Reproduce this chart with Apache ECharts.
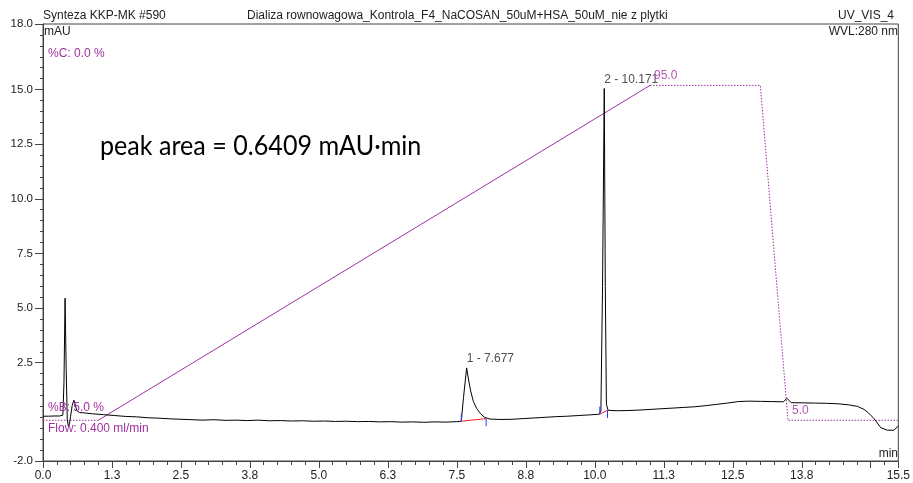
<!DOCTYPE html>
<html><head><meta charset="utf-8">
<script src="https://cdn.jsdelivr.net/npm/echarts@6/dist/echarts.min.js"></script>
<style>html,body{margin:0;padding:0;background:#fff}#c{width:913px;height:483px}</style>
</head><body><div id="c"></div>
<script>
// ---- data ----
const traceTime = [0,0.1,0.2,0.3,0.36,0.38,0.40,0.42,0.44,0.46,0.48,0.50,0.53,0.56,0.58,0.61,0.66,0.75,0.9,1.1,1.3,1.5,1.7,1.9,2.1,2.3,2.5,2.7,2.9,3.1,3.3,3.5,3.7,3.9,4.1,4.3,4.5,4.7,4.9,5.1,5.3,5.5,5.7,5.9,6.1,6.3,6.5,6.7,6.9,7.1,7.3,7.5,7.58,7.62,7.677,7.71,7.75,7.80,7.86,7.93,8.0,8.1,8.3,8.5,8.7,8.9,9.1,9.3,9.5,9.7,9.9,10.08,10.11,10.14,10.171,10.19,10.21,10.24,10.4,10.6,10.8,11.0,11.2,11.4,11.6,11.8,12.0,12.2,12.4,12.6,12.8,13.0,13.2,13.42,13.48,13.56,13.8,14.0,14.2,14.4,14.6,14.76,14.88,14.96,15.06,15.18,15.3,15.42,15.5];
const traceMAU  = [0.05,0.05,0.06,0.06,0.1,1.6,5.45,2.2,-0.1,-0.42,-0.3,0.05,0.55,0.78,0.62,0.32,0.22,0.2,0.16,0.12,0.08,0.04,0.02,-0.02,-0.04,-0.07,-0.09,-0.11,-0.13,-0.11,-0.14,-0.13,-0.15,-0.13,-0.16,-0.15,-0.17,-0.16,-0.18,-0.17,-0.19,-0.18,-0.2,-0.19,-0.21,-0.2,-0.22,-0.21,-0.23,-0.21,-0.22,-0.2,-0.18,0.9,2.26,1.75,1.2,0.72,0.4,0.16,0.0,-0.08,-0.1,-0.09,-0.06,-0.03,0.0,0.03,0.05,0.08,0.11,0.14,0.3,6.0,15.05,6.0,0.6,0.32,0.3,0.31,0.33,0.36,0.39,0.42,0.45,0.48,0.53,0.59,0.65,0.72,0.74,0.73,0.72,0.71,0.87,0.67,0.66,0.65,0.64,0.62,0.57,0.5,0.36,0.2,-0.06,-0.47,-0.59,-0.59,-0.4];
const gradTime = [0,1,11,13,13.5,15.5];
const gradB    = [5,5,95,95,5,5];
const peakTimes   = [7.677,10.171];
const peakHeights = [2.26,15.05];
const peakNames   = ['1 - 7.677','2 - 10.171'];
const baseStartT = [7.58,10.09], baseStartY = [-0.18,0.14];
const baseEndT   = [8.03,10.23], baseEndY   = [-0.06,0.32];
const xLabelValues = [0,1.25,2.5,3.75,5,6.25,7.5,8.75,10,11.25,12.5,13.75,15.5];
const xLabelTexts  = ['0.0','1.3','2.5','3.8','5.0','6.3','7.5','8.8','10.0','11.3','12.5','13.8','15.5'];
const xMajorTicks  = [0,1.25,2.5,3.75,5,6.25,7.5,8.75,10,11.25,12.5,13.75,15,15.5];
const yLabelValues = [-2,2.5,5,7.5,10,12.5,15,18];
const yLabelTexts  = ['-2.0','2.5','5.0','7.5','10.0','12.5','15.0','18.0'];

const xMinor=[]; for(let v=0; v<=15.5001; v+=0.25) xMinor.push(+v.toFixed(2));
const yMinor=[]; for(let v=-2; v<=18.0001; v+=0.5) yMinor.push(+v.toFixed(1));

const PURPLE='#a030a0', FONT='Liberation Sans, Arial, sans-serif', TXT='#222', AX='#444';
const chart = echarts.init(document.getElementById('c'), null, {renderer:'canvas'});

const series = [];
series.push({type:'line', data: traceTime.map((t,i)=>[t,traceMAU[i]]), symbol:'none', lineStyle:{color:'#000',width:1}, xAxisIndex:0,yAxisIndex:0, z:5, animation:false});
const gpts = gradTime.map((t,i)=>[t,gradB[i]]);
series.push({type:'line', data: gpts.slice(0,2), symbol:'none', yAxisIndex:2, lineStyle:{color:PURPLE,width:1,type:[1.5,1.5]}, animation:false});
series.push({type:'line', data: gpts.slice(1,3), symbol:'none', yAxisIndex:2, lineStyle:{color:PURPLE,width:1}, animation:false});
series.push({type:'line', data: gpts.slice(2), symbol:'none', yAxisIndex:2, lineStyle:{color:PURPLE,width:1,type:[1.5,1.5]}, animation:false});
for(let i=0;i<baseStartT.length;i++){
  series.push({type:'line', data:[[baseStartT[i],baseStartY[i]],[baseEndT[i],baseEndY[i]]], symbol:'none', lineStyle:{color:'#ff1a1a',width:1}, z:6, animation:false});
  series.push({type:'line', data:[[baseStartT[i],baseStartY[i]],[baseStartT[i],baseStartY[i]+0.35]], symbol:'none', lineStyle:{color:'#2040ff',width:1}, z:6, animation:false});
  series.push({type:'line', data:[[baseEndT[i],baseEndY[i]],[baseEndT[i],baseEndY[i]-0.35]], symbol:'none', lineStyle:{color:'#2040ff',width:1}, z:6, animation:false});
}
series.push({type:'scatter', symbolSize:0, data: peakTimes.map((t,i)=>[t,peakHeights[i],peakNames[i]]),
  label:{show:true, formatter:p=>p.data[2], position:[0,-3], align:'left', verticalAlign:'bottom', color:TXT, fontSize:12, fontFamily:FONT}, z:7, animation:false});
series.push({type:'scatter', symbolSize:0, yAxisIndex:2, data:[[gradTime[2],gradB[2]],[gradTime[4],gradB[4]]],
  label:{show:true, formatter:p=>p.data[1].toFixed(1), position:[4,-4], align:'left', verticalAlign:'bottom', color:PURPLE, fontSize:12, fontFamily:FONT}, z:7, animation:false});

const txt=(x,y,s,opt={})=>({type:'text', x, y, style:Object.assign({text:s, fill:TXT, font:'12px '+FONT, textVerticalAlign:'middle'},opt), z:10});
const area = txt(100,146,'peak area = 0.6409 mAU·min',{fill:'#000', font:'27px Lato, "Open Sans", sans-serif'});
area.scaleX = 0.93;

chart.setOption({
  animation:false,
  grid:{left:43, right:14, top:24, bottom:22, show:true, borderColor:AX, borderWidth:1},
  xAxis:[
    {type:'value', min:0, max:15.5, position:'bottom', splitLine:{show:false},
     axisLine:{onZero:false, lineStyle:{color:AX,width:1}},
     axisTick:{customValues:xMajorTicks, length:7, lineStyle:{color:AX}},
     axisLabel:{customValues:xLabelValues, formatter:v=>xLabelTexts[xLabelValues.findIndex(a=>Math.abs(a-v)<1e-6)], color:TXT, fontSize:12, fontFamily:FONT, margin:9}},
    {type:'value', min:0, max:15.5, position:'bottom', offset:0, splitLine:{show:false},
     axisLine:{show:true, onZero:false, lineStyle:{color:AX,width:1}},
     axisTick:{show:true, customValues:xMinor, length:4, lineStyle:{color:AX}}, axisLabel:{show:false}}
  ],
  yAxis:[
    {type:'value', min:-2, max:18, position:'left', splitLine:{show:false},
     axisLine:{show:true, onZero:false, lineStyle:{color:AX,width:1}},
     axisTick:{customValues:yLabelValues, length:8, lineStyle:{color:AX}},
     axisLabel:{customValues:yLabelValues, formatter:v=>yLabelTexts[yLabelValues.findIndex(a=>Math.abs(a-v)<1e-6)], color:TXT, fontSize:11.5, fontFamily:FONT, margin:10}},
    {type:'value', min:-2, max:18, position:'left', splitLine:{show:false}, axisLine:{show:false, onZero:false},
     axisTick:{customValues:yMinor, length:3, lineStyle:{color:AX}}, axisLabel:{show:false}},
    {type:'value', min:-5.94, max:111.5, show:false, splitLine:{show:false}}
  ],
  graphic:[
    txt(43,16,'Synteza KKP-MK #590'),
    txt(247,16,'Dializa rownowagowa_Kontrola_F4_NaCOSAN_50uM+HSA_50uM_nie z plytki'),
    txt(894,16,'UV_VIS_4',{textAlign:'right'}),
    txt(898,32,'WVL:280 nm',{textAlign:'right'}),
    txt(44,32,'mAU'),
    txt(48,54,'%C: 0.0 %',{fill:PURPLE}),
    txt(48,408,'%B: 5.0 %',{fill:PURPLE}),
    txt(48,429,'Flow: 0.400 ml/min',{fill:PURPLE}),
    txt(898,454,'min',{textAlign:'right'}),
    area
  ],
  series
});
</script></body></html>
